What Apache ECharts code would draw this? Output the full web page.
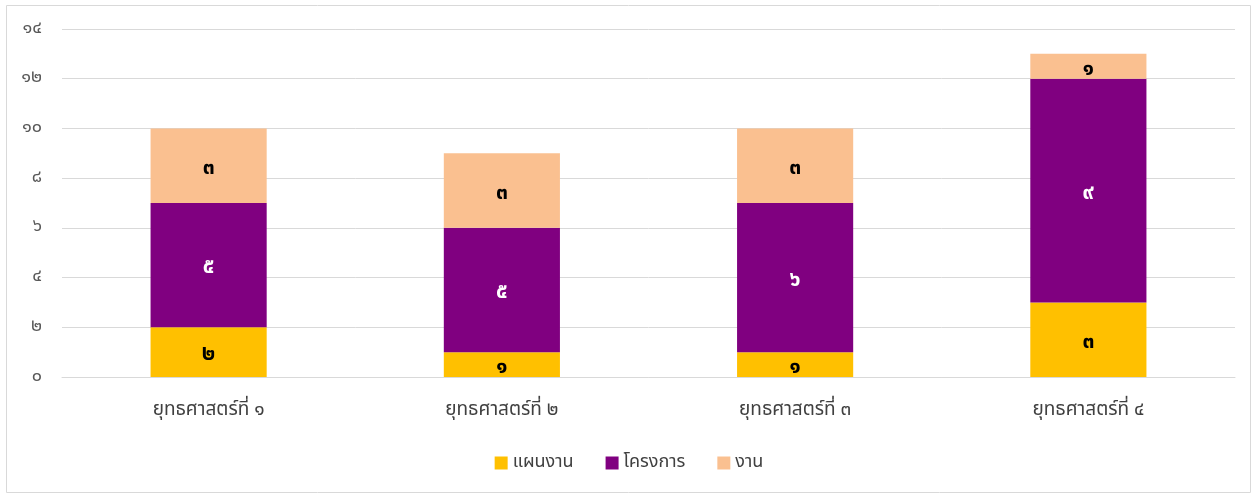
<!DOCTYPE html>
<html>
<head>
<meta charset="utf-8">
<script src="https://cdn.jsdelivr.net/npm/echarts@6/dist/echarts.min.js"></script>
<style>
    html, body { margin: 0; padding: 0; background: #fff; }
    #chart { width: 1258px; height: 495px; }
</style>
</head>
<body>
<div id="chart"></div>
<script>
;(function () {

    'use strict';

    var categories = ['ยุทธศาสตร์ที่ ๑', 'ยุทธศาสตร์ที่ ๒', 'ยุทธศาสตร์ที่ ๓', 'ยุทธศาสตร์ที่ ๔'];
    var seriesNames = ['แผนงาน', 'โครงการ', 'งาน'];
    var planValues = [2, 1, 1, 3];
    var projectValues = [5, 5, 6, 9];
    var taskValues = [3, 3, 3, 1];
    var yTicks = { min: 0, max: 14, interval: 2 };

    var thaiDigits = '๐๑๒๓๔๕๖๗๘๙';
    var toThai = function (n) {
        return String(n).replace(/[0-9]/g, function (d) { return thaiDigits[+d]; });
    };

    var font = 'Tahoma, "Noto Sans Thai", "Noto Sans", "DejaVu Sans", sans-serif';

    var makeSeries = function (name, data, color, labelColor) {
        return {
            name: name,
            type: 'bar',
            stack: 'total',
            barWidth: '39.6%',
            data: data,
            itemStyle: { color: color },
            label: {
                show: true,
                position: 'inside',
                offset: [0, 4],
                color: labelColor,
                fontFamily: font,
                fontWeight: 'bold',
                fontSize: 21,
                formatter: function (p) { return toThai(p.value); }
            }
        };
    };

    var chart = echarts.init(document.getElementById('chart'));
    chart.setOption({
        animation: false,
        textStyle: { fontFamily: font },
        graphic: [{
            type: 'rect',
            shape: { x: 6.5, y: 5.5, width: 1244, height: 487 },
            style: { fill: 'none', stroke: '#d9d9d9', lineWidth: 1 },
            silent: true
        }],
        grid: { left: 62, right: 23, top: 29, bottom: 118 },
        legend: {
            bottom: 18,
            left: 'center',
            itemWidth: 13,
            itemHeight: 13,
            itemGap: 32,
            icon: 'rect',
            textStyle: { fontSize: 18, color: '#404040', fontFamily: font },
            data: seriesNames
        },
        xAxis: {
            type: 'category',
            data: categories,
            axisLine: { lineStyle: { color: '#d9d9d9' } },
            axisTick: { show: false },
            axisLabel: { fontSize: 19, color: '#404040', margin: 25, fontFamily: font }
        },
        yAxis: {
            type: 'value',
            min: yTicks.min,
            max: yTicks.max,
            interval: yTicks.interval,
            axisLine: { show: false },
            axisTick: { show: false },
            splitLine: { lineStyle: { color: '#d9d9d9' } },
            axisLabel: {
                fontSize: 18,
                color: '#595959',
                margin: 20,
                fontFamily: font,
                formatter: function (v) { return toThai(v); }
            }
        },
        series: [
            makeSeries(seriesNames[0], planValues, '#FFC000', '#000'),
            makeSeries(seriesNames[1], projectValues, '#800080', '#fff'),
            makeSeries(seriesNames[2], taskValues, '#FAC090', '#000')
        ]
    });

}());
</script>
</body>
</html>
